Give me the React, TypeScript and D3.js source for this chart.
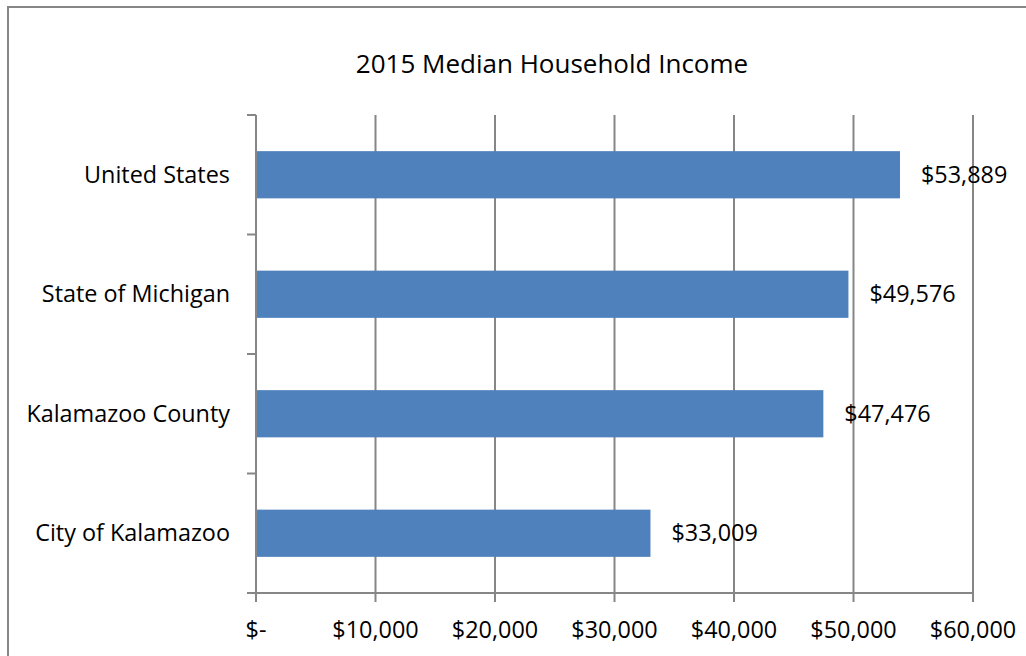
import React, { useEffect, useRef } from 'react';
import * as d3 from 'd3';

const categories = ['United States', 'State of Michigan', 'Kalamazoo County', 'City of Kalamazoo'];
const incomes = [53889, 49576, 47476, 33009];
const xTicks = [0, 10000, 20000, 30000, 40000, 50000, 60000];
const title = '2015 Median Household Income';

const W = 1026;
const H = 656;
const FONT = '"Open Sans", "Noto Sans", sans-serif';
const LABEL_SIZE = 23.4;

const money = (v: number) => (v === 0 ? '$-' : '$' + d3.format(',')(v));

const App: React.FC = () => {
  const svgRef = useRef<SVGSVGElement>(null);

  useEffect(() => {
    if (!svgRef.current) return;
    const svg = d3.select(svgRef.current);
    svg.selectAll('*').remove();

    const left = 256;
    const right = 973;
    const top = 115;
    const bottom = 593;

    const x = d3.scaleLinear().domain([0, 60000]).range([left, right]);
    const y = d3
      .scaleBand<string>()
      .domain(categories)
      .range([top, bottom])
      .paddingInner(0.605)
      .paddingOuter(0.3025);

    // outer border
    svg
      .append('rect')
      .attr('x', 8)
      .attr('y', 7)
      .attr('width', W + 20)
      .attr('height', H + 20)
      .attr('fill', '#fff')
      .attr('stroke', '#868686')
      .attr('stroke-width', 2);

    // title
    svg
      .append('text')
      .attr('x', 552)
      .attr('y', 73)
      .attr('text-anchor', 'middle')
      .attr('font-family', FONT)
      .attr('font-size', 26)
      .attr('fill', '#000')
      .text(title);

    // vertical gridlines
    svg
      .append('g')
      .selectAll('line')
      .data(xTicks.slice(1))
      .enter()
      .append('line')
      .attr('x1', (d) => x(d))
      .attr('x2', (d) => x(d))
      .attr('y1', top)
      .attr('y2', bottom)
      .attr('stroke', '#868686')
      .attr('stroke-width', 2);

    // bars
    svg
      .append('g')
      .selectAll('rect')
      .data(incomes)
      .enter()
      .append('rect')
      .attr('x', x(0))
      .attr('y', (d, i) => y(categories[i]) as number)
      .attr('width', (d) => x(d) - x(0))
      .attr('height', y.bandwidth())
      .attr('fill', '#4f81bd');

    // y axis line and ticks
    const step = (bottom - top) / categories.length;
    svg
      .append('line')
      .attr('x1', left)
      .attr('x2', left)
      .attr('y1', top)
      .attr('y2', bottom)
      .attr('stroke', '#868686')
      .attr('stroke-width', 2);
    svg
      .append('g')
      .selectAll('line')
      .data(d3.range(categories.length + 1))
      .enter()
      .append('line')
      .attr('x1', left - 9)
      .attr('x2', left)
      .attr('y1', (i) => top + i * step)
      .attr('y2', (i) => top + i * step)
      .attr('stroke', '#868686')
      .attr('stroke-width', 2);

    // x axis line and ticks
    svg
      .append('line')
      .attr('x1', left - 9)
      .attr('x2', right)
      .attr('y1', bottom)
      .attr('y2', bottom)
      .attr('stroke', '#868686')
      .attr('stroke-width', 2);
    svg
      .append('g')
      .selectAll('line')
      .data(xTicks)
      .enter()
      .append('line')
      .attr('x1', (d) => x(d))
      .attr('x2', (d) => x(d))
      .attr('y1', bottom)
      .attr('y2', bottom + 9)
      .attr('stroke', '#868686')
      .attr('stroke-width', 2);

    // x tick labels
    svg
      .append('g')
      .selectAll('text')
      .data(xTicks)
      .enter()
      .append('text')
      .attr('x', (d) => x(d))
      .attr('y', 638)
      .attr('text-anchor', 'middle')
      .attr('font-family', FONT)
      .attr('font-size', LABEL_SIZE)
      .attr('fill', '#000')
      .text((d) => money(d));

    // category labels
    svg
      .append('g')
      .selectAll('text')
      .data(categories)
      .enter()
      .append('text')
      .attr('x', 230)
      .attr('y', (d) => (y(d) as number) + y.bandwidth() / 2)
      .attr('dy', '0.34em')
      .attr('text-anchor', 'end')
      .attr('font-family', FONT)
      .attr('font-size', LABEL_SIZE)
      .attr('fill', '#000')
      .text((d) => d);

    // value labels
    svg
      .append('g')
      .selectAll('text')
      .data(incomes)
      .enter()
      .append('text')
      .attr('x', (d) => x(d) + 21)
      .attr('y', (d, i) => (y(categories[i]) as number) + y.bandwidth() / 2)
      .attr('dy', '0.34em')
      .attr('font-family', FONT)
      .attr('font-size', LABEL_SIZE)
      .attr('fill', '#000')
      .text((d) => money(d));
  }, []);

  return (
    <svg
      ref={svgRef}
      width={W}
      height={H}
      style={{ position: 'absolute', left: 0, top: 0, background: '#fff' }}
    />
  );
};

export default App;
